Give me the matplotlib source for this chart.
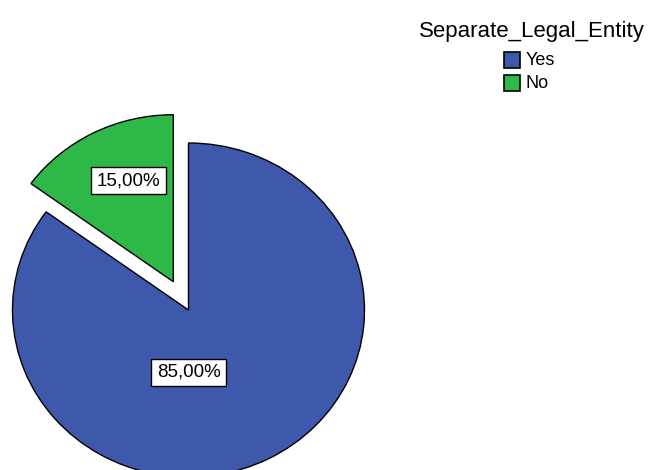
import matplotlib
matplotlib.use("Agg")
import matplotlib.pyplot as plt
from matplotlib.patches import Rectangle

plt.rcParams['font.family'] = ['Liberation Sans', 'DejaVu Sans']

categories = ["Yes", "No"]
percent = [85.0, 15.0]
labels = ["85,00%", "15,00%"]
colors = ["#3E58AC", "#2EB848"]
legend_title = "Separate_Legal_Entity"

W, H = 649, 470
fig = plt.figure(figsize=(W / 100, H / 100), dpi=100)

cx, cy, rx, ry = 188.5, 160.0, 176.0, 167.0
span = 1.5
ax = fig.add_axes([(cx - span * rx) / W, (cy - span * ry) / H,
                   2 * span * rx / W, 2 * span * ry / H])
ax.pie(percent, colors=colors, startangle=90, counterclock=False,
       explode=[0, 0.19], wedgeprops=dict(edgecolor="black", linewidth=1.0))
ax.set_aspect("auto")
ax.set_xlim(-span, span)
ax.set_ylim(-span, span)

label_pos = [(0.0, -0.374), (-0.341, 0.775)]
for (x, y), t in zip(label_pos, labels):
    ax.text(x, y, t, ha="center", va="center", fontsize=13.5,
            bbox=dict(boxstyle="square,pad=0.28", facecolor="white",
                      edgecolor="black", linewidth=1.0))

fig.text(532 / W, 1 - 31 / H, legend_title, ha="center", va="center", fontsize=16)
sq = 16
for i, (cat, col) in enumerate(zip(categories, colors)):
    top = 52.3 + i * 23
    fig.patches.append(Rectangle((504 / W, 1 - (top + sq) / H), sq / W, sq / H,
                                 transform=fig.transFigure, facecolor=col,
                                 edgecolor="black", linewidth=1.2))
    fig.text(525.5 / W, 1 - (top + sq / 2) / H, cat, ha="left", va="center",
             fontsize=13)

fig.savefig("out.png", dpi=100)
